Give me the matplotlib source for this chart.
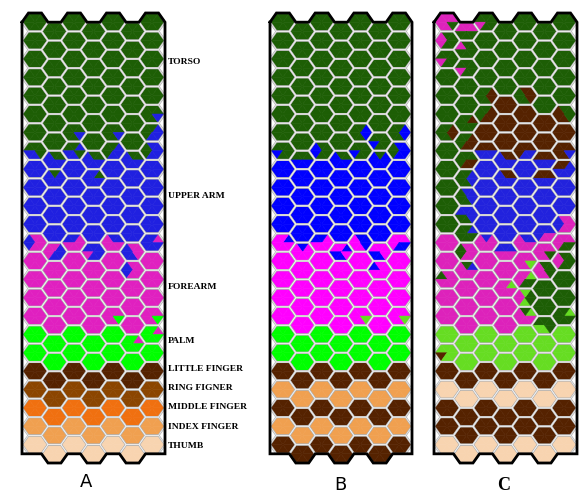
import numpy as np
import matplotlib.pyplot as plt
from matplotlib.collections import PolyCollection

n_rows, n_cols = 24, 7

# class letters: T torso, U upper arm, F forearm, P palm, L little, R ring,
# M middle, I index, H thumb
a_colors = {'T': '#1d5e05', 'U': '#2020e0', 'F': '#e020c0', 'P': '#00ff00',
            'L': '#552200', 'R': '#8b4500', 'M': '#f07010', 'I': '#f0a050',
            'H': '#f8d4b0'}
b_colors = {'T': '#1d5e05', 'U': '#0000ff', 'F': '#ff00ff', 'P': '#00ff00',
            'L': '#552200', 'I': '#f0a050', 'G': '#66dd22'}
c_colors = {'T': '#1d5e05', 'U': '#2222dd', 'F': '#dd22bb', 'P': '#66dd22',
            'L': '#552200', 'H': '#f8d4b0'}

a_grid = [
    "TTTTTTT", "TTTTTTT", "TTTTTTT", "TTTTTTT", "TTTTTTT", "TTTTTTT",
    "TTTTTTT", "TUTUTUT", "UUUUUUU", "UUUUUUU", "UUUUUUU", "UUUUUUU",
    "FUFUFUU", "FFFFFFF", "FFFFFFF", "FFFFFFF", "FFFFFFF", "PPPPPPP",
    "PPPPPPP", "LLLLLLL", "RRRRRRR", "MMMMMMM", "IIIIIII", "HHHHHHH",
]
# wedge order: upper-right, top, upper-left, lower-left, bottom, lower-right
a_mix = {
    (5, 6): "TTTTTU", (6, 2): "TTTTTU", (6, 4): "TTTTTU", (6, 6): "UTTTUU",
    (7, 0): "TTTUUT", (7, 1): "TTUUUU", (7, 2): "UTTUUT", (7, 3): "TTUUUU",
    (7, 4): "UTTTUU", (7, 5): "TTUUUU", (7, 6): "UUTTUU",
    (8, 1): "UTUUUU", (8, 3): "TUUUUU",
    (12, 0): "FFUUFF", (12, 1): "UFFFUU", (12, 2): "FUUFFF", (12, 3): "UUUFUU",
    (12, 4): "UUFFFF", (12, 5): "FFUUUF", (12, 6): "FUUUUU", (13, 5): "FFUUFF",
    (16, 4): "FFFFFP", (16, 6): "FFFFFP", (17, 5): "FPPPPP", (17, 6): "FPPPPP",
}

b_grid = [
    "TTTTTTT", "TTTTTTT", "TTTTTTT", "TTTTTTT", "TTTTTTT", "TTTTTTT",
    "TTTTTTT", "TUTUTUU", "UUUUUUU", "UUUUUUU", "UUUUUUU", "UUUUUUU",
    "FFFFFFF", "FFFFFFF", "FFFFFFF", "FFFFFFF", "FFFFFFF", "PPPPPPP",
    "PPPPPPP", "LLLLLLL", "IIIIIII", "LLLLLLL", "IIIIIII", "LLLLLLL",
]
b_mix = {
    (6, 4): "UTTTTU", (6, 5): "TTTUTT", (6, 6): "UTTTTU",
    (7, 0): "TTTUTT", (7, 1): "TTTUUU", (7, 2): "TTUUTT", (7, 3): "TTUUUU",
    (7, 4): "TTTUTT", (7, 5): "UTUUUU", (7, 6): "UUTTUU",
    (12, 0): "UFFFFF", (12, 1): "FUFFFF", (12, 2): "FUUFFF", (12, 3): "UFFUUF",
    (12, 4): "UUFFFU", (12, 5): "FFFUUF", (12, 6): "FFFFUU", (13, 5): "FFUFFF",
    (16, 4): "FFFFFG", (16, 6): "FFFFFG",
}

c_grid = [
    "FFTTTTT", "TTTTTTT", "TTTTTTT", "TTTTTTT", "TTTLTTT", "TTTLLLT",
    "TTLLLLL", "TTLLLLL", "TTUUUUU", "TUUUUUU", "TUUUUUU", "TTUUUUF",
    "FFFUUFF", "FFFFFFF", "FFFFFTT", "FFFFPTT", "FFFFFTT", "PPPPPPP",
    "PPPPPPP", "LLLLLLL", "HHHHHHH", "LLLLLLL", "LLLLLLL", "HHHHHHH",
]
c_mix = {
    (0, 0): "FFFFFT", (0, 1): "FFFTTT", (0, 2): "TTTFTT",
    (1, 0): "TTFFTT", (1, 1): "TTFTTT", (2, 0): "TTTFTT", (2, 1): "TTTFTT",
    (4, 2): "LTTTTL", (4, 4): "LLTTTL", (5, 1): "LTTTTT", (5, 2): "LTTTLL",
    (5, 6): "TTLLLT", (6, 0): "LTTTTL", (6, 1): "LTTTLL",
    (7, 1): "TTTTLL", (7, 2): "LLLUUU", (7, 3): "LLUUUU", (7, 4): "LLLLUU",
    (7, 5): "LLLUUU", (7, 6): "LLLLLU",
    (8, 1): "UTTTTU", (8, 3): "LLUUUU", (8, 5): "LLLUUU", (8, 6): "ULLUUU",
    (9, 1): "UUTTTU", (10, 1): "UUUTTU", (11, 1): "UTTTTT",
    (11, 5): "UUUUFF", (11, 6): "FFUUFF",
    (12, 1): "FFTTFF", (12, 2): "FUFFFF", (12, 3): "UUUFFF", (12, 4): "UUFFFF",
    (12, 5): "FFFFFT", (12, 6): "FFFFTT",
    (13, 1): "UTFFFF", (13, 4): "FFFFFP", (13, 5): "TTFFFT", (13, 6): "TTFFTT",
    (14, 0): "FFTFFF", (14, 3): "PFFFFF", (14, 4): "PFFFTT",
    (15, 4): "TPFFPT", (16, 4): "PTFFFF", (16, 5): "TTTPPT", (16, 6): "PTTTTT",
    (18, 0): "PPPLPP",
}

labels = ["TORSO", "UPPER ARM", "FOREARM", "PALM", "LITTLE FINGER",
          "RING FIGNER", "MIDDLE FINGER", "INDEX FINGER", "THUMB"]
label_y = [62, 196, 287, 341, 369, 388, 407, 427, 446]

corners = np.array([[2/3, 0], [1/3, 0.5], [-1/3, 0.5],
                    [-2/3, 0], [-1/3, -0.5], [1/3, -0.5]])


def center(r, c):
    return np.array([c, -(r + 0.5 * (c % 2))])


def draw_panel(ax, grid, mix, colors):
    tris, cols, hexes = [], [], []
    for r in range(n_rows):
        for c in range(n_cols):
            p = center(r, c)
            w = mix.get((r, c), grid[r][c] * 6)
            for k in range(6):
                tris.append([p, p + corners[k], p + corners[(k + 1) % 6]])
                cols.append(colors[w[k]])
            hexes.append(p + corners)
    ax.add_collection(PolyCollection(tris, facecolors=cols, edgecolors=cols,
                                     linewidths=0.4))
    ax.add_collection(PolyCollection(hexes, facecolors='none',
                                     edgecolors='#b4b4b4', linewidths=1.5))
    ax.add_collection(PolyCollection(hexes, facecolors='none',
                                     edgecolors='#f0f0f0', linewidths=0.5))
    # frame
    top = []
    for c in range(n_cols):
        p = center(0, c)
        ks = [3, 2, 1, 0] if c % 2 == 0 else [2, 1]
        top += [p + corners[k] for k in ks]
    bot = [np.array([n_cols - 1 + 2/3, -(n_rows - 0.5)])]
    for c in range(n_cols - 1, -1, -1):
        p = center(n_rows - 1, c)
        ks = [0, 5, 4, 3] if c % 2 == 1 else [5, 4]
        bot += [p + corners[k] for k in ks]
    bot.append(np.array([-2/3, -(n_rows - 0.5)]))
    pts = np.array(top + bot + [top[0]])
    ax.plot(pts[:, 0], pts[:, 1], color='black', lw=2.0, clip_on=False,
            solid_joinstyle='miter')
    ax.set_xlim(-2/3, n_cols - 1 + 2/3)
    ax.set_ylim(-n_rows, 0.5)
    ax.axis('off')


W, H = 581, 493
fig = plt.figure(figsize=(W / 100, H / 100), dpi=100)
panels = [(22, 165, a_grid, a_mix, a_colors),
          (270, 412, b_grid, b_mix, b_colors),
          (434, 577, c_grid, c_mix, c_colors)]
for x0, x1, g, m, cl in panels:
    ax = fig.add_axes([x0 / W, 1 - 463 / H, (x1 - x0) / W, 450 / H])
    draw_panel(ax, g, m, cl)

for t, y in zip(labels, label_y):
    fig.text(168 / W, 1 - y / H, t, ha='left', va='center', fontsize=6.8,
             fontweight='bold', family='Liberation Serif')

fig.text(86 / W, 1 - 482 / H, "A", ha='center', va='center', fontsize=13,
         family='DejaVu Sans')
fig.text(340 / W, 1 - 485 / H, "B", ha='center', va='center', fontsize=13,
         family='DejaVu Sans')
fig.text(504 / W, 1 - 486 / H, "C", ha='center', va='center', fontsize=13,
         fontweight='bold', family='Liberation Serif')

fig.savefig('out.png', dpi=100)
